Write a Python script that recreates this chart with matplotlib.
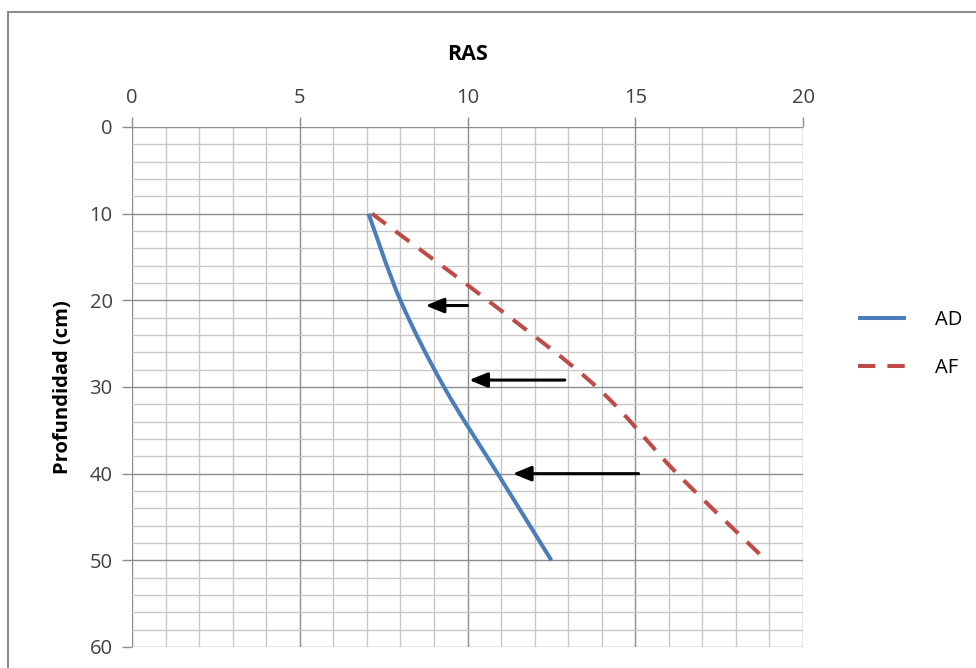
import numpy as np
import matplotlib.pyplot as plt
from matplotlib.patches import Rectangle, PathPatch
from matplotlib.path import Path
from matplotlib.lines import Line2D

# depth (cm) and RAS values
depth = [10, 20, 30, 40, 50]
ad = [7.05, 8.0, 9.3, 10.9, 12.5]
af = [7.15, 10.6, 13.85, 16.25, 18.9]

# arrows: (depth, x start, x tip)
arrow_y = [20.6, 29.2, 40.0]
arrow_from = [10.0, 12.9, 15.1]
arrow_to = [8.75, 10.05, 11.35]

plt.rcParams['font.family'] = ['Open Sans', 'DejaVu Sans']


def smooth_path(xs, ys):
    # excel-like smoothed line: cubic bezier through the points
    p = np.column_stack([xs, ys]).astype(float)
    verts = [p[0]]
    codes = [Path.MOVETO]
    n = len(p)
    for i in range(n - 1):
        p0 = p[i - 1] if i > 0 else p[i]
        p3 = p[i + 2] if i + 2 < n else p[i + 1]
        c1 = p[i] + (p[i + 1] - p0) / 6
        c2 = p[i + 1] - (p3 - p[i]) / 6
        verts += [c1, c2, p[i + 1]]
        codes += [Path.CURVE4] * 3
    return Path(verts, codes)


fig = plt.figure(figsize=(9.76, 6.68), dpi=100)
ax = fig.add_axes([132/976, 1-647/668, (803-132)/976, (647-127)/668])

# chart border
fig.patches.append(Rectangle((8/976, -0.1), 1.2, 1-12/668+0.1, transform=fig.transFigure,
                             fill=False, edgecolor='#8c8c8c', linewidth=1.5))

blue = '#4a7ebb'
red = '#be4b48'
dash = (0, (4.3, 3.0))
ax.add_patch(PathPatch(smooth_path(ad, depth), fill=False, edgecolor=blue, linewidth=2.9,
                       capstyle='butt'))
ax.add_patch(PathPatch(smooth_path(af, depth), fill=False, edgecolor=red, linewidth=2.9,
                       linestyle=dash, capstyle='butt'))

for y, x0, x1 in zip(arrow_y, arrow_from, arrow_to):
    ax.annotate('', xy=(x1, y), xytext=(x0, y),
                arrowprops=dict(arrowstyle='-|>,head_length=1.1,head_width=0.45',
                                color='black', lw=2.2, shrinkA=0, shrinkB=0))

ax.set_xlim(0, 20)
ax.set_ylim(60, 0)
ax.xaxis.tick_top()
ax.xaxis.set_label_position('top')
ax.set_xticks(np.arange(0, 21, 5))
ax.set_yticks(np.arange(0, 61, 10))
ax.set_xticks(np.arange(0, 21, 1), minor=True)
ax.set_yticks(np.arange(0, 61, 2), minor=True)
ax.grid(which='major', color='#8c8c8c', linewidth=1)
ax.grid(which='minor', color='#c8c8c8', linewidth=1)
ax.set_axisbelow(True)
for s in ax.spines.values():
    s.set_visible(False)
ax.tick_params(which='major', length=7, width=1, color='#8c8c8c', labelsize=14.5,
               labelcolor='#404040', pad=7)
ax.tick_params(which='minor', length=0)

ax.set_xlabel('RAS', fontsize=15.5, fontweight='bold', labelpad=20)
ax.set_ylabel('Profundidad (cm)', fontsize=14.5, fontweight='bold', labelpad=12)

handles = [Line2D([], [], color=blue, linewidth=2.9, solid_capstyle='butt'),
           Line2D([], [], color=red, linewidth=2.9, linestyle=dash)]
ax.legend(handles, ['AD', 'AF'], loc='center left', bbox_to_anchor=(1.067, 0.583),
          frameon=False, fontsize=14.5, handlelength=2.4, handletextpad=1.4,
          labelspacing=1.4, borderpad=0)

fig.savefig('out.png', dpi=100)
